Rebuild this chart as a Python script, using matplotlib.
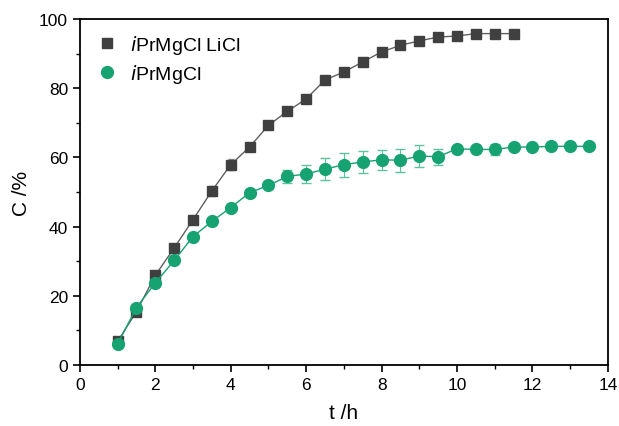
import numpy as np
import matplotlib.pyplot as plt
from matplotlib.lines import Line2D

plt.rcParams['font.family'] = ['Liberation Sans', 'DejaVu Sans']

t_licl = [1, 1.5, 2, 2.5, 3, 3.5, 4, 4.5, 5, 5.5, 6, 6.5, 7, 7.5, 8, 8.5,
          9, 9.5, 10, 10.5, 11, 11.5]
c_licl = [6.8, 15.4, 25.9, 33.8, 42.0, 50.3, 57.9, 63.0, 69.3, 73.3, 76.9,
          82.4, 84.7, 87.6, 90.5, 92.4, 93.7, 94.8, 95.1, 95.8, 95.8, 95.8]
e_licl = [0.8, 0.6, 1.0, 0.8, 0.6, 1.5, 1.6, 1.0, 1.0, 0.6, 0.6, 0.5, 0.5,
          0.5, 0.4, 0.4, 0.3, 0.3, 0.3, 0.3, 0.3, 0.3]

t_mg = [1, 1.5, 2, 2.5, 3, 3.5, 4, 4.5, 5, 5.5, 6, 6.5, 7, 7.5, 8, 8.5, 9,
        9.5, 10, 10.5, 11, 11.5, 12, 12.5, 13, 13.5]
c_mg = [6.0, 16.6, 23.7, 30.2, 37.1, 41.5, 45.5, 49.8, 51.9, 54.5, 55.2,
        56.6, 57.9, 58.7, 59.3, 59.2, 60.4, 60.2, 62.5, 62.3, 62.3, 63.0,
        63.0, 63.2, 63.2, 63.2]
e_mg = [0.6, 0.6, 0.8, 0.8, 0.6, 0.8, 0.6, 0.8, 0.8, 2.0, 2.6, 3.2, 3.5,
        3.2, 2.8, 3.3, 3.3, 2.3, 0.6, 0.6, 1.6, 0.5, 0.5, 0.5, 0.5, 0.5]

gray = '#404040'
green = '#17a271'

fig, ax = plt.subplots(figsize=(6.19, 4.27), dpi=100)
fig.subplots_adjust(left=0.129, right=0.982, bottom=0.143, top=0.953)

ax.errorbar(t_licl, c_licl, yerr=e_licl, fmt='s-', color='#606060',
            mfc=gray, mec=gray, ms=7.8, lw=1.0, ecolor='#8a8a8a',
            elinewidth=0.8, capsize=2.5, zorder=3)
ax.errorbar(t_mg, c_mg, yerr=e_mg, fmt='o-', color=green, mfc=green,
            mec=green, ms=8.5, lw=1.0, ecolor='#5cc49c', elinewidth=0.8,
            capsize=3.5, zorder=4)

ax.set_xlim(0, 14)
ax.set_ylim(0, 100)
ax.set_xticks(np.arange(0, 15, 2))
ax.set_xticks(np.arange(1, 14, 2), minor=True)
ax.set_yticks(np.arange(0, 101, 20))
ax.set_yticks(np.arange(10, 100, 20), minor=True)
ax.tick_params(which='major', direction='out', length=5, width=1.2, labelsize=12.5)
ax.tick_params(which='minor', direction='out', length=3, width=1.0)
for s in ax.spines.values():
    s.set_linewidth(1.3)

ax.set_xlabel('t /h', fontsize=15, labelpad=8)
ax.set_ylabel('C /%', fontsize=15, labelpad=6)

handles = [
    Line2D([], [], ls='none', marker='s', ms=7.8, color=gray),
    Line2D([], [], ls='none', marker='o', ms=8.5, color=green),
]
ax.legend(handles, ['$\\mathit{i}$PrMgCl LiCl', '$\\mathit{i}$PrMgCl'],
          loc='upper left', frameon=False, fontsize=14,
          handletextpad=0.5, borderaxespad=0.3, handlelength=1.4,
          labelspacing=0.3)

fig.savefig('out.png', dpi=100)
